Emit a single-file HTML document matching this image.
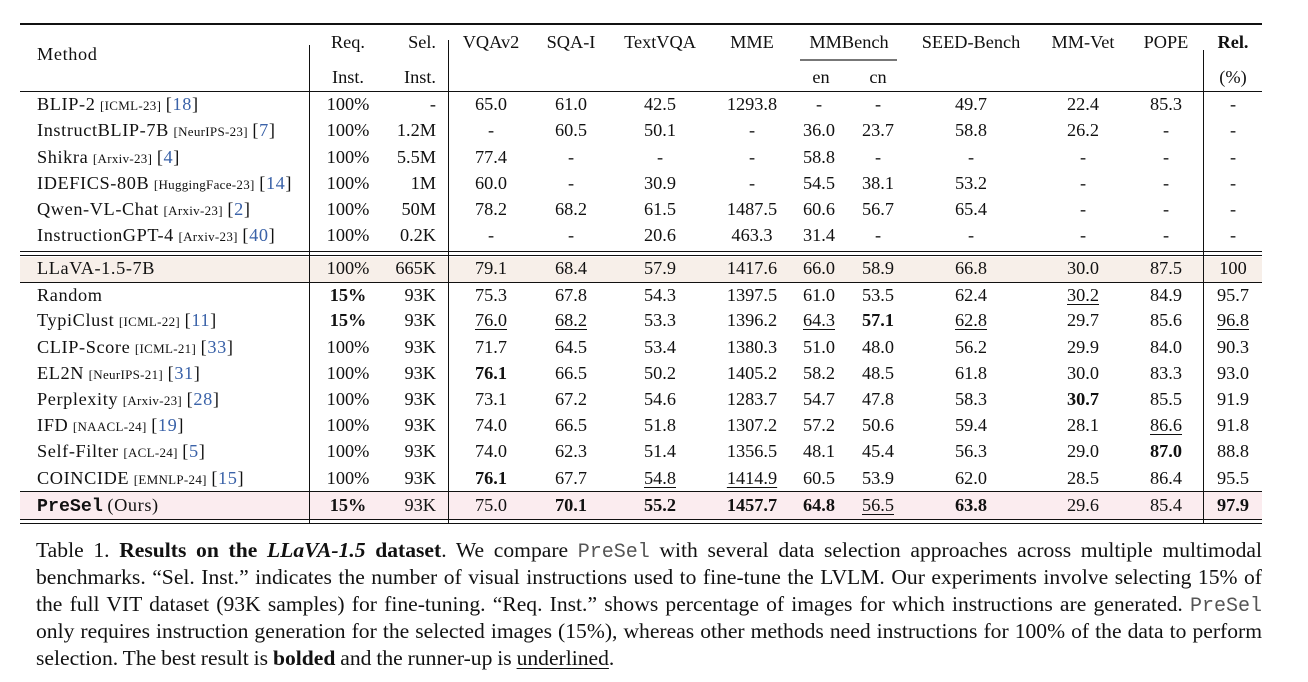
<!DOCTYPE html>
<html><head><meta charset="utf-8"><style>
body{margin:0;width:1308px;height:682px;background:#fff;position:relative;overflow:hidden;font-family:"Liberation Serif",serif;color:#111}
.t{position:absolute;white-space:nowrap;font-size:18.3px;line-height:20px}
.hl{position:absolute;background:#111}
.vl{position:absolute;width:1px;background:#111}
.v{font-size:13px;letter-spacing:0.3px}
.c{color:#3a62a8}
.m{letter-spacing:0.6px}
.u{text-decoration:underline;text-underline-offset:3px;text-decoration-thickness:1px}
.mono{font-family:"Liberation Mono",monospace;font-weight:bold;letter-spacing:0}
#cap{position:absolute;left:36px;top:537px;width:1226px;font-size:21.6px;line-height:27px;word-spacing:-0.5px}
#cap .ln{display:block;white-space:nowrap;text-align:justify;text-align-last:justify;height:27px}
#cap .ln.last{text-align-last:left}
.pm{font-family:'Liberation Mono',monospace;color:#555;font-size:20px}
</style></head><body>
<div id="tbl"></div>
<div id="cap">
<span class="ln">Table 1. <b>Results on the <i>LLaVA-1.5</i> dataset</b>. We compare <span class="pm">PreSel</span> with several data selection approaches across multiple multimodal</span>
<span class="ln">benchmarks. “Sel. Inst.” indicates the number of visual instructions used to fine-tune the LVLM. Our experiments involve selecting 15% of</span>
<span class="ln">the full VIT dataset (93K samples) for fine-tuning. “Req. Inst.” shows percentage of images for which instructions are generated. <span class="pm">PreSel</span></span>
<span class="ln">only requires instruction generation for the selected images (15%), whereas other methods need instructions for 100% of the data to perform</span>
<span class="ln last">selection. The best result is <b>bolded</b> and the runner-up is <span class="u">underlined</span>.</span>
</div>
<script>
const methods=[["BLIP-2","ICML-23","18"],["InstructBLIP-7B","NeurIPS-23","7"],["Shikra","Arxiv-23","4"],["IDEFICS-80B","HuggingFace-23","14"],["Qwen-VL-Chat","Arxiv-23","2"],["InstructionGPT-4","Arxiv-23","40"],["LLaVA-1.5-7B","",""],["Random","",""],["TypiClust","ICML-22","11"],["CLIP-Score","ICML-21","33"],["EL2N","NeurIPS-21","31"],["Perplexity","Arxiv-23","28"],["IFD","NAACL-24","19"],["Self-Filter","ACL-24","5"],["COINCIDE","EMNLP-24","15"],["PreSel","",""]];
const values=[
"100%,-,65.0,61.0,42.5,1293.8,-,-,49.7,22.4,85.3,-",
"100%,1.2M,-,60.5,50.1,-,36.0,23.7,58.8,26.2,-,-",
"100%,5.5M,77.4,-,-,-,58.8,-,-,-,-,-",
"100%,1M,60.0,-,30.9,-,54.5,38.1,53.2,-,-,-",
"100%,50M,78.2,68.2,61.5,1487.5,60.6,56.7,65.4,-,-,-",
"100%,0.2K,-,-,20.6,463.3,31.4,-,-,-,-,-",
"100%,665K,79.1,68.4,57.9,1417.6,66.0,58.9,66.8,30.0,87.5,100",
"**15%,93K,75.3,67.8,54.3,1397.5,61.0,53.5,62.4,__30.2,84.9,95.7",
"**15%,93K,__76.0,__68.2,53.3,1396.2,__64.3,**57.1,__62.8,29.7,85.6,__96.8",
"100%,93K,71.7,64.5,53.4,1380.3,51.0,48.0,56.2,29.9,84.0,90.3",
"100%,93K,**76.1,66.5,50.2,1405.2,58.2,48.5,61.8,30.0,83.3,93.0",
"100%,93K,73.1,67.2,54.6,1283.7,54.7,47.8,58.3,**30.7,85.5,91.9",
"100%,93K,74.0,66.5,51.8,1307.2,57.2,50.6,59.4,28.1,__86.6,91.8",
"100%,93K,74.0,62.3,51.4,1356.5,48.1,45.4,56.3,29.0,**87.0,88.8",
"100%,93K,**76.1,67.7,__54.8,__1414.9,60.5,53.9,62.0,28.5,86.4,95.5",
"**15%,93K,75.0,**70.1,**55.2,**1457.7,**64.8,__56.5,**63.8,29.6,85.4,**97.9"];
const colX=[348,436,491,571,660,752,819,878,971,1083,1166,1233];
const rowY=[104,130,157,183,209,235,268,295,320,347,373,399,425,451,478,505];
const T=document.getElementById('tbl');
function add(h,x,y,align,name){const d=document.createElement('div');d.className='t';d.innerHTML=h;


d.style.top=(y-10)+'px';
if(align==='l')d.style.left=x+'px';else if(align==='r'){d.style.right=(1308-x)+'px';}else{d.style.left=(x-100)+'px';d.style.width='200px';d.style.textAlign='center';}
T.appendChild(d);return d;}
function line(cls,x,y,w,h,name,bg){const d=document.createElement('div');d.className=cls;d.style.left=x+'px';d.style.top=y+'px';d.style.width=w+'px';d.style.height=h+'px';if(bg)d.style.background=bg;


T.appendChild(d);}
line('hl',20,257,1242,25,'baseline-row-bg','#f7efe9');
line('hl',20,492,1242,27,'ours-row-bg','#fbecef');
line('hl',20,23,1242,2,'top-rule');
line('hl',20,91,1242,1,'header-rule');
line('hl',20,251,1242,1,'mid-rule-1');
line('hl',20,255,1242,1,'mid-rule-2');
line('hl',20,282,1242,1,'mid-rule-3');
line('hl',20,491,1242,1,'ours-rule');
line('hl',20,519,1242,1,'bottom-rule-1');
line('hl',20,523,1242,1,'bottom-rule-2');
line('hl',800,59,97,2,'mmbench-rule','#777');
line('vl',309,45,1,478,'vline-method');
line('vl',448,40,1,483,'vline-sel');
line('vl',1203,50,1,473,'vline-rel');
add('<span class="m">Method</span>',37,54,'l','header-method');
add('Req.',348,42,'c','header-req');add('Inst.',348,77,'c','header-req-inst');
add('Sel.',436,42,'r','header-sel');add('Inst.',436,77,'r','header-sel-inst');
const heads=['VQAv2','SQA-I','TextVQA','MME','','','SEED-Bench','MM-Vet','POPE'];
heads.forEach((h,i)=>{if(h)add(h,colX[i+2],42,'c','header-'+h.toLowerCase());});
add('MMBench',849,42,'c','header-mmbench');
add('en',821,77,'c','header-en');add('cn',878,77,'c','header-cn');
add('<b>Rel.</b>',1233,42,'c','header-rel');add('(%)',1233,77,'c','header-rel-pct');
methods.forEach((m,r)=>{const y=rowY[r];
let h;
if(m[0]==='PreSel')h='<span class="mono">PreSel</span> <span class="m">(Ours)</span>';
else h='<span class="m">'+m[0]+'</span>'+(m[1]?' <span class="v">['+m[1]+']</span> <span class="m">[<span class="c">'+m[2]+'</span>]</span>':'');
add(h,37,y,'l','method-'+m[0].toLowerCase());
values[r].split(',').forEach((v,i)=>{let s=v;
if(v.startsWith('**'))s='<b>'+v.slice(2)+'</b>';else if(v.startsWith('__'))s='<span class="u">'+v.slice(2)+'</span>';
add(s,colX[i],y,i===1?'r':'c','cell-'+r+'-'+i);});
});
</script>
</body></html>
